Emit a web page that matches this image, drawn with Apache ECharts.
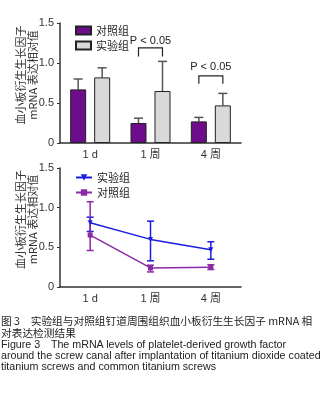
<!DOCTYPE html>
<html>
<head>
<meta charset="utf-8">
<script src="https://cdn.jsdelivr.net/npm/echarts@6/dist/echarts.min.js"></script>
<style>
  body{margin:0;background:#fff;width:329px;height:395px;overflow:hidden;position:relative;
       font-family:"Liberation Sans","Noto Sans CJK SC",sans-serif;color:#222;}
  #bar{position:absolute;left:0;top:0;width:329px;height:165px;}
  #line{position:absolute;left:0;top:150px;width:329px;height:165px;}
  .cap{position:absolute;left:1px;white-space:nowrap;}
  .cn{top:315px;font-size:10.7px;line-height:11.5px;font-family:"Noto Sans CJK SC",sans-serif;}
  .en{top:339px;font-size:10.7px;line-height:11px;}
</style>
</head>
<body>
<div id="bar"></div>
<div id="line"></div>
<div class="cap cn">图 3　实验组与对照组钉道周围组织血小板衍生生长因子 mRNA 相<br>对表达检测结果</div>
<div class="cap en">Figure 3　The mRNA levels of platelet-derived growth factor<br>around the screw canal after implantation of titanium dioxide coated<br>titanium screws and common titanium screws</div>
<script>
// 数据
const categories = ['1 d', '1 周', '4 周'];
const yTicks = [0, 0.5, 1.0, 1.5];

// 柱状图 (均值 + 误差上端)
const barCtrl = [0.67, 0.25, 0.27];
const barCtrlTop = [0.80, 0.31, 0.32];
const barExp = [0.82, 0.65, 0.47];
const barExpTop = [0.94, 1.02, 0.62];
// P 值括号 [类别, 下端, 上端, 文字位置]
const pBrackets = [[1, 1.08, 1.19, 1.28], [2, 0.74, 0.84, 0.95]];

// 折线图 (均值, 下限, 上限)
const lineExp = [0.81, 0.60, 0.47];
const lineExpLow = [0.70, 0.33, 0.35];
const lineExpHigh = [0.88, 0.83, 0.57];
const lineCtrl = [0.655, 0.24, 0.25];
const lineCtrlLow = [0.46, 0.19, 0.22];
const lineCtrlHigh = [1.075, 0.275, 0.28];

const purple = '#6e0d8c';
const grey = '#d9d9d9';
const blue = '#1c1ce0';
const linePurple = '#8a2aa6';
const axisColor = '#333';
const barW = 16, barGapPx = 8;
const off = (barW + barGapPx) / 2;

function yAxisCfg() {
  return {
    type: 'value', min: yTicks[0], max: yTicks[yTicks.length - 1], interval: 0.5,
    name: '血小板衍生生长因子\nmRNA 表达相对值',
    nameLocation: 'middle', nameRotate: 90, nameGap: 21, nameMoveOverlap: false,
    nameTextStyle: {fontSize: 11, lineHeight: 12, color: '#333', fontFamily: 'Noto Sans CJK SC',
      padding: [0, 0, 0, 16]},
    axisLine: {show: true, lineStyle: {color: axisColor, width: 1.5}},
    axisTick: {show: true, length: 3, lineStyle: {color: axisColor}},
    splitLine: {show: false},
    axisLabel: {fontSize: 11, color: '#333', margin: 6, fontFamily: 'Liberation Sans',
      formatter: v => v === 0 ? '0' : v.toFixed(1)}
  };
}
function xAxisCfg() {
  return {
    type: 'category', data: categories,
    axisLine: {lineStyle: {color: axisColor, width: 1.5}},
    axisTick: {alignWithLabel: true, length: 3, lineStyle: {color: axisColor}},
    axisLabel: {fontSize: 11, color: '#333', margin: 6, fontFamily: 'Liberation Sans, Noto Sans CJK SC'}
  };
}

function errBar(dx, tops, color) {
  return {
    type: 'custom', silent: true, z: 1,
    data: tops.map((t, i) => [i, t]),
    renderItem: (params, api) => {
      const i = api.value(0);
      const src = dx < 0 ? barCtrl : barExp;
      const p0 = api.coord([i, src[i]]);
      const p1 = api.coord([i, api.value(1)]);
      const x = p0[0] + dx;
      return {type: 'group', children: [
        {type: 'line', shape: {x1: x, y1: p0[1], x2: x, y2: p1[1]}, style: {stroke: color, lineWidth: 1.5}},
        {type: 'line', shape: {x1: x - 4.5, y1: p1[1], x2: x + 4.5, y2: p1[1]}, style: {stroke: color, lineWidth: 1.5}}
      ]};
    }
  };
}

var barChart = echarts.init(document.getElementById('bar'));
barChart.setOption({
  animation: false,
  grid: {left: 60, right: 88, top: 23, height: 120, outerBoundsMode: 'none'},
  legend: {
    orient: 'vertical', left: 70, top: 20, itemWidth: 15, itemHeight: 8, itemGap: 4,
    icon: 'rect',
    textStyle: {fontSize: 11, color: '#222', fontFamily: 'Noto Sans CJK SC'},
    data: ['对照组', '实验组']
  },
  xAxis: xAxisCfg(),
  yAxis: yAxisCfg(),
  series: [
    {name: '对照组', type: 'bar', data: barCtrl, barWidth: barW, barGap: '50%', z: 2,
      itemStyle: {color: purple, borderColor: '#222', borderWidth: 1}},
    {name: '实验组', type: 'bar', data: barExp, barWidth: barW, z: 2,
      itemStyle: {color: grey, borderColor: '#222', borderWidth: 1}},
    errBar(-off, barCtrlTop, '#555'),
    errBar(off, barExpTop, '#555'),
    {
      type: 'custom', silent: true,
      data: pBrackets,
      renderItem: (params, api) => {
        const lo = api.coord([api.value(0), api.value(1)]);
        const hi = api.coord([api.value(0), api.value(2)]);
        const tx = api.coord([api.value(0), api.value(3)]);
        const x = lo[0];
        return {type: 'group', children: [
          {type: 'polyline', shape: {points: [[x - off, lo[1]], [x - off, hi[1]], [x + off, hi[1]], [x + off, lo[1]]]},
            style: {stroke: '#222', lineWidth: 1.2, fill: null}},
          {type: 'text', x: x, y: tx[1], style: {text: 'P < 0.05', fontSize: 11, fill: '#222',
            fontFamily: 'Liberation Sans', align: 'center', verticalAlign: 'middle'}}
        ]};
      }
    }
  ]
});

function lineErr(mean, low, high, color) {
  return {
    type: 'custom', silent: true, z: 3,
    data: mean.map((m, i) => [i, low[i], high[i]]),
    renderItem: (params, api) => {
      const a = api.coord([api.value(0), api.value(1)]);
      const b = api.coord([api.value(0), api.value(2)]);
      const x = a[0];
      const st = {stroke: color, lineWidth: 1.5};
      return {type: 'group', children: [
        {type: 'line', shape: {x1: x, y1: a[1], x2: x, y2: b[1]}, style: st},
        {type: 'line', shape: {x1: x - 3.5, y1: a[1], x2: x + 3.5, y2: a[1]}, style: st},
        {type: 'line', shape: {x1: x - 3.5, y1: b[1], x2: x + 3.5, y2: b[1]}, style: st}
      ]};
    }
  };
}

var lineChart = echarts.init(document.getElementById('line'));
lineChart.setOption({
  animation: false,
  grid: {left: 60, right: 88, top: 18, height: 119, outerBoundsMode: 'none'},
  legend: {
    orient: 'vertical', left: 70, top: 17, itemWidth: 16, itemHeight: 8, itemGap: 4,
    textStyle: {fontSize: 11, color: '#222', fontFamily: 'Noto Sans CJK SC'},
    data: ['实验组', '对照组']
  },
  xAxis: xAxisCfg(),
  yAxis: yAxisCfg(),
  series: [
    {name: '实验组', type: 'line', data: lineExp, color: blue, symbol: 'triangle', symbolRotate: 180,
      symbolSize: 5, lineStyle: {width: 1.5}, z: 4},
    {name: '对照组', type: 'line', data: lineCtrl, color: linePurple, symbol: 'rect',
      symbolSize: 5, lineStyle: {width: 1.5}, z: 4},
    lineErr(lineExp, lineExpLow, lineExpHigh, blue),
    lineErr(lineCtrl, lineCtrlLow, lineCtrlHigh, linePurple)
  ]
});
</script>
</body>
</html>
